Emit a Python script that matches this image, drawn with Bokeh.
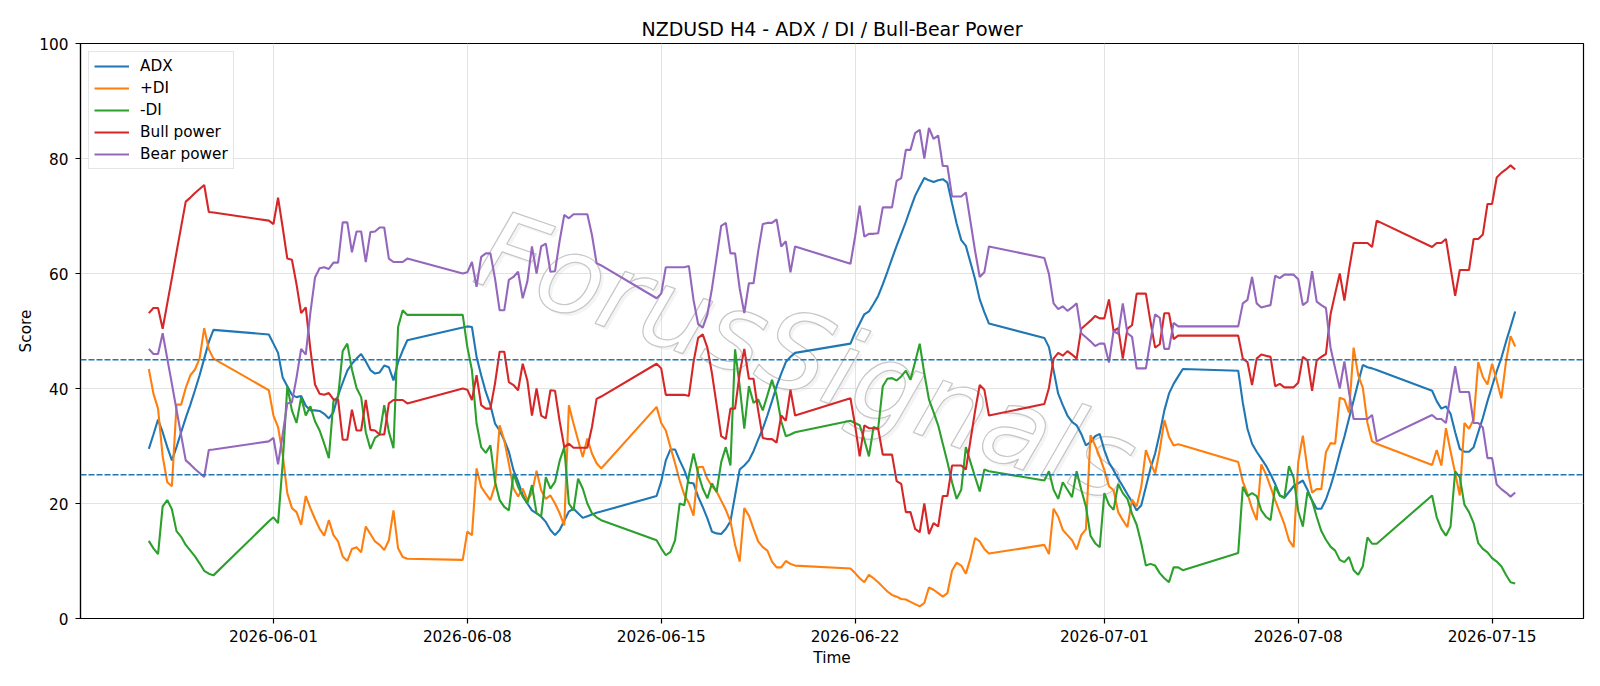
import pandas as pd
from bokeh.plotting import figure
from bokeh.models import (ColumnDataSource, Range1d, FixedTicker, DatetimeTickFormatter,
                          Span, Label)
from bokeh.embed import file_html
from bokeh.resources import INLINE

FONT = "DejaVu Sans"

# H4 trading sessions (bar open times), one entry per trading week
sessions = [
    ("2026-05-27 12:00", "2026-05-29 20:00"),
    ("2026-05-31 20:00", "2026-06-05 20:00"),
    ("2026-06-07 20:00", "2026-06-12 20:00"),
    ("2026-06-14 20:00", "2026-06-19 20:00"),
    ("2026-06-21 20:00", "2026-06-26 20:00"),
    ("2026-06-28 20:00", "2026-07-03 20:00"),
    ("2026-07-05 20:00", "2026-07-10 20:00"),
    ("2026-07-12 20:00", "2026-07-15 20:00"),
]

adx = [
    29.5, 32.0, 34.6, 32.4, 29.8, 27.5, 29.8, 32.4, 34.9, 37.2, 39.7, 42.3, 45.2, 48.1, 50.2,
    49.4, 47.8, 46.2, 41.9, 40.4, 38.9, 38.5, 38.7, 37.0, 36.2, 36.2, 36.1, 35.6, 34.8, 35.9, 38.8,
    41.0, 43.1, 44.3, 45.2, 46.0, 44.7, 43.2, 42.6, 42.8, 44.0, 43.7, 41.4, 44.6, 46.6, 48.4,
    50.6, 50.8, 50.7, 45.5, 42.3, 39.4, 37.1, 33.9, 32.7, 31.0, 29.0, 25.8, 23.8, 21.5, 20.0, 18.8,
    18.3, 17.7, 16.8, 15.4, 14.5, 15.4, 17.0, 18.6, 19.1, 18.3, 17.5, 17.8, 18.1, 18.4, 18.6,
    21.3, 23.8, 27.5, 29.4, 29.4, 27.5, 25.8, 23.6, 23.5, 21.2, 19.4, 17.4, 15.1, 14.8, 14.7, 15.6,
    16.9, 21.4, 25.9, 26.6, 27.5, 29.1, 31.1, 33.0, 35.3, 37.8, 40.4, 42.6, 44.6, 45.5, 46.2,
    47.8, 49.7, 51.3, 52.9, 53.4, 54.7, 56.1, 58.1, 60.3, 62.6, 64.8, 66.9, 69.0, 71.3, 73.5, 75.1,
    76.6, 76.2, 75.9, 76.2, 76.4, 75.8, 72.2, 68.7, 65.8, 64.8, 61.9, 59.0, 55.5, 53.3, 51.3,
    48.8, 47.2, 43.2, 39.1, 37.1, 35.3, 34.2, 33.6, 32.1, 30.1, 30.7, 31.7, 32.1, 29.3, 27.1, 25.8,
    24.3, 23.0, 21.6, 20.3, 18.8, 19.7, 22.9, 26.1, 28.7, 32.2, 36.2, 39.1, 40.8, 42.1, 43.4,
    43.1, 37.5, 33.0, 30.4, 29.0, 27.8, 26.6, 25.1, 23.4, 21.4, 21.0, 22.0, 23.0, 23.5, 24.0, 22.4,
    20.5, 19.1, 19.1, 20.7, 23.0, 25.7, 28.8, 31.6, 34.8, 37.9, 41.1, 44.1, 43.7, 43.5, 43.2,
    39.6, 37.8, 36.5, 36.9, 35.6, 32.4, 29.5, 29.0, 29.0, 29.8, 32.4, 34.9, 37.8, 40.4, 43.0, 45.3,
    48.1, 50.7, 53.4,
]

plus_di = [
    43.4, 39.1, 36.5, 28.2, 23.7, 23.0, 37.2, 37.2, 40.1, 42.3, 43.3, 45.2, 50.5, 46.8, 45.2,
    39.7, 35.3, 33.3, 28.5, 21.8, 19.2, 18.5, 16.3, 21.3, 19.2, 17.3, 15.6, 14.4, 17.1, 14.5, 13.4,
    10.8, 10.0, 12.1, 12.4, 11.5, 16.0, 14.7, 13.4, 12.8, 11.9, 13.6, 18.8, 12.2, 10.7, 10.4,
    10.2, 15.1, 14.5, 26.1, 22.9, 21.7, 20.6, 23.2, 33.6, 31.0, 26.9, 22.6, 21.2, 22.6, 20.6, 21.8,
    25.7, 22.3, 20.8, 21.4, 20.0, 18.3, 16.2, 37.1, 33.9, 31.0, 28.1, 31.3, 28.7, 27.0, 26.1,
    36.8, 34.0, 32.7, 29.8, 27.0, 24.0, 21.5, 20.1, 17.9, 26.3, 26.4, 24.3, 23.0, 22.1, 20.5, 18.9,
    16.9, 12.8, 9.9, 19.2, 17.9, 15.6, 13.4, 12.4, 11.8, 9.9, 8.9, 8.9, 10.0, 9.5, 9.2,
    8.7, 7.9, 7.0, 6.3, 7.6, 7.0, 6.3, 5.5, 4.7, 4.1, 3.8, 3.4, 3.3, 2.9, 2.5, 2.1,
    2.7, 5.4, 5.0, 4.4, 3.8, 4.4, 8.3, 9.7, 9.2, 7.8, 10.5, 14.0, 13.4, 12.1, 11.3,
    12.8, 11.2, 19.1, 17.7, 15.4, 14.5, 13.6, 12.0, 14.5, 15.5, 31.9, 30.1, 28.1, 25.8, 23.0, 22.3,
    18.5, 17.1, 15.9, 20.7, 19.5, 22.9, 29.3, 27.1, 25.2, 29.3, 34.5, 31.6, 30.1, 30.3, 30.1,
    27.2, 23.8, 21.7, 19.1, 17.1, 26.8, 25.1, 22.9, 20.6, 18.5, 16.4, 13.6, 12.4, 27.2, 31.8, 26.0,
    21.9, 22.5, 22.5, 28.9, 30.5, 30.4, 38.4, 38.1, 35.8, 47.1, 42.3, 40.1, 34.0, 30.8, 30.4,
    26.7, 29.3, 26.6, 33.1, 29.1, 25.3, 21.4, 34.0, 33.0, 34.6, 44.6, 42.0, 40.7, 44.3, 41.4, 38.3,
    44.6, 49.1, 47.3,
]

minus_di = [
    13.5, 12.2, 11.2, 19.5, 20.6, 19.0, 15.2, 14.2, 12.8, 11.8, 10.8, 9.6, 8.3, 7.8, 7.5,
    16.9, 17.6, 16.6, 27.0, 40.4, 36.2, 34.0, 38.5, 35.3, 36.9, 34.3, 32.7, 30.4, 27.9, 37.8, 38.5,
    46.5, 47.8, 43.3, 40.1, 38.5, 32.4, 29.5, 31.4, 32.0, 37.1, 32.5, 29.6, 50.7, 53.6, 52.8,
    52.8, 47.2, 43.2, 33.9, 29.8, 28.8, 30.1, 23.8, 20.6, 19.4, 18.8, 25.2, 22.9, 21.2, 20.0, 23.2,
    18.3, 17.8, 24.6, 22.6, 23.8, 27.4, 29.8, 20.0, 18.8, 24.3, 22.6, 20.0, 18.3, 17.6, 17.1,
    13.6, 12.2, 11.0, 11.6, 13.6, 20.0, 19.7, 24.9, 28.7, 25.2, 22.6, 20.9, 23.5, 22.0, 27.2, 29.8,
    26.6, 46.8, 40.4, 33.0, 40.4, 37.5, 38.1, 36.2, 38.8, 41.5, 38.8, 34.3, 31.7, 32.0, 32.4,
    34.4, 34.0, 33.6, 31.1, 28.2, 33.3, 33.0, 40.4, 41.7, 41.8, 41.4, 42.1, 43.1, 41.5, 44.6, 47.8,
    42.6, 38.1, 35.9, 33.6, 30.4, 27.2, 23.7, 20.8, 22.4, 29.8, 27.2, 24.6, 22.1, 25.9, 25.6,
    24.0, 25.6, 22.4, 20.8, 23.7, 22.4, 21.1, 25.6, 22.4, 19.5, 14.4, 13.1, 12.4, 21.8, 19.8, 18.9,
    23.4, 21.8, 20.8, 18.2, 16.3, 13.1, 9.2, 9.5, 9.2, 7.9, 7.0, 6.3, 8.9, 8.9, 8.4,
    11.4, 22.9, 21.3, 21.8, 21.3, 18.8, 17.7, 17.1, 23.0, 21.4, 21.0, 26.5, 24.5, 18.7, 16.0, 22.0,
    20.5, 17.7, 15.2, 13.7, 12.5, 11.8, 10.2, 9.8, 10.7, 8.4, 7.6, 9.1, 14.1, 13.0, 13.0,
    21.4, 17.6, 15.6, 14.4, 16.0, 25.6, 24.6, 19.8, 18.5, 16.6, 13.1, 12.1, 11.5, 10.5, 9.9, 9.1,
    7.6, 6.3, 6.1,
]

bull_power = [
    53.1, 54.0, 54.0, 50.4, 54.8, 59.2, 63.7, 68.1, 72.5, 73.2, 74.0, 74.7, 75.4, 70.7, 70.6,
    69.2, 68.6, 73.2, 68.0, 62.6, 62.4, 58.1, 53.1, 54.1, 46.8, 40.7, 39.1, 38.9, 39.2, 38.1, 38.1,
    31.1, 31.1, 36.3, 32.7, 32.7, 38.0, 32.8, 32.7, 32.0, 32.0, 37.4, 38.0, 38.0, 38.0, 37.4,
    40.0, 39.8, 38.0, 42.3, 37.1, 36.5, 36.5, 40.9, 46.4, 46.4, 41.1, 40.6, 39.7, 44.3, 41.4, 35.3,
    40.0, 35.3, 34.8, 39.7, 39.6, 34.3, 29.8, 30.4, 29.7, 29.7, 29.7, 29.7, 33.3, 38.2, 38.6,
    44.3, 43.5, 38.9, 38.9, 38.9, 38.9, 38.9, 38.7, 44.6, 48.8, 49.4, 47.1, 42.6, 37.2, 31.7, 31.2,
    36.5, 36.5, 42.6, 46.9, 41.7, 41.7, 36.2, 31.4, 31.2, 31.2, 30.6, 35.3, 34.4, 39.8, 35.3,
    38.3, 33.6, 28.2, 33.6, 33.1, 33.1, 33.0, 28.5, 28.5, 28.5, 23.9, 23.4, 18.5, 18.5, 15.6, 15.0,
    20.0, 14.7, 16.6, 16.0, 21.3, 21.3, 26.6, 26.6, 26.6, 25.9, 31.0, 36.1, 40.6, 39.8, 35.3,
    37.3, 40.1, 45.2, 46.2, 45.7, 46.5, 45.9, 45.2, 50.4, 51.1, 51.8, 52.6, 52.2, 52.2, 55.5, 50.0,
    50.5, 45.2, 50.4, 51.0, 56.5, 56.5, 56.5, 51.6, 47.1, 47.7, 53.1, 53.1, 48.6, 49.2, 49.2,
    49.2, 45.2, 44.6, 40.6, 45.2, 45.9, 45.7, 45.5, 40.4, 40.8, 40.2, 40.2, 40.2, 41.0, 45.5, 44.9,
    39.6, 44.9, 45.5, 46.0, 52.9, 56.5, 60.0, 55.3, 60.6, 65.3, 65.3, 65.3, 65.3, 64.6, 69.2,
    64.6, 65.3, 65.3, 66.0, 61.0, 56.1, 60.6, 60.6, 60.6, 66.0, 66.0, 66.8, 72.1, 72.1, 76.7, 77.5,
    78.1, 78.8, 78.1,
]

bear_power = [
    46.9, 46.0, 46.0, 49.6, 45.2, 40.8, 36.3, 31.9, 27.5, 26.8, 26.0, 25.3, 24.6, 29.3, 29.4,
    30.8, 31.4, 26.8, 32.0, 37.4, 37.6, 41.9, 46.9, 45.9, 53.2, 59.3, 60.9, 61.1, 60.8, 61.9, 61.9,
    68.9, 68.9, 63.7, 67.3, 67.3, 62.0, 67.2, 67.3, 68.0, 68.0, 62.6, 62.0, 62.0, 62.0, 62.6,
    60.0, 60.2, 62.0, 57.7, 62.9, 63.5, 63.5, 59.1, 53.6, 53.6, 58.9, 59.4, 60.3, 55.7, 58.6, 64.7,
    60.0, 64.7, 65.2, 60.3, 60.4, 65.7, 70.2, 69.6, 70.3, 70.3, 70.3, 70.3, 66.7, 61.8, 61.4,
    55.7, 56.5, 61.1, 61.1, 61.1, 61.1, 61.1, 61.3, 55.4, 51.2, 50.6, 52.9, 57.4, 62.8, 68.3, 68.8,
    63.5, 63.5, 57.4, 53.1, 58.3, 58.3, 63.8, 68.6, 68.8, 68.8, 69.4, 64.7, 65.6, 60.2, 64.7,
    61.7, 66.4, 71.8, 66.4, 66.9, 66.9, 67.0, 71.5, 71.5, 71.5, 76.1, 76.6, 81.5, 81.5, 84.4, 85.0,
    80.0, 85.3, 83.4, 84.0, 78.7, 78.7, 73.4, 73.4, 73.4, 74.1, 69.0, 63.9, 59.4, 60.2, 64.7,
    62.7, 59.9, 54.8, 53.8, 54.3, 53.5, 54.1, 54.8, 49.6, 48.9, 48.2, 47.4, 47.8, 47.8, 44.5, 50.0,
    49.5, 54.8, 49.6, 49.0, 43.5, 43.5, 43.5, 48.4, 52.9, 52.3, 46.9, 46.9, 51.4, 50.8, 50.8,
    50.8, 54.8, 55.4, 59.4, 54.8, 54.1, 54.3, 54.5, 59.6, 59.2, 59.8, 59.8, 59.8, 59.0, 54.5, 55.1,
    60.4, 55.1, 54.5, 54.0, 47.1, 43.5, 40.0, 44.7, 39.4, 34.7, 34.7, 34.7, 34.7, 35.4, 30.8,
    35.4, 34.7, 34.7, 34.0, 39.0, 43.9, 39.4, 39.4, 39.4, 34.0, 34.0, 33.2, 27.9, 27.9, 23.3, 22.5,
    21.9, 21.2, 21.9,
]

tick_dates = ["2026-06-01", "2026-06-08", "2026-06-15", "2026-06-22",
              "2026-07-01", "2026-07-08", "2026-07-15"]
y_ticks = [0, 20, 40, 60, 80, 100]
threshold_levels = [25, 45]

series = [
    ("ADX", "adx", "#1f77b4"),
    ("+DI", "plus_di", "#ff7f0e"),
    ("-DI", "minus_di", "#2ca02c"),
    ("Bull power", "bull", "#d62728"),
    ("Bear power", "bear", "#9467bd"),
]

# build the bar-time index from the session bounds
parts = [pd.date_range(a, b, freq="4h") for a, b in sessions]
time = parts[0].append(parts[1:])

source = ColumnDataSource(dict(
    time=time, adx=adx, plus_di=plus_di, minus_di=minus_di,
    bull=bull_power, bear=bear_power,
))

span = time[-1] - time[0]
x_start = time[0] - 0.05 * span
x_end = time[-1] + 0.05 * span

p = figure(
    width=1600, height=686,
    x_axis_type="datetime",
    x_range=Range1d(x_start, x_end),
    y_range=Range1d(0, 100),
    output_backend="svg",
    toolbar_location=None,
    min_border_left=80, min_border_right=17,
    min_border_top=43, min_border_bottom=68,
    title="NZDUSD H4 - ADX / DI / Bull-Bear Power",
)
p.background_fill_color = "white"
p.border_fill_color = "white"
p.outline_line_color = "black"
p.outline_line_width = 1.2

p.title.align = "center"
p.title.text_font = FONT
p.title.text_font_size = "19px"
p.title.text_font_style = "normal"
p.title.text_color = "black"
p.title.standoff = 8

# grid
p.xgrid.grid_line_color = "#e3e3e3"
p.ygrid.grid_line_color = "#e3e3e3"
p.xgrid.grid_line_width = 1
p.ygrid.grid_line_width = 1

# axes
tick_ms = [pd.Timestamp(d).value // 10**6 for d in tick_dates]
p.xaxis.ticker = FixedTicker(ticks=tick_ms)
fmt = "%Y-%m-%d"
p.xaxis.formatter = DatetimeTickFormatter(
    microseconds=fmt, milliseconds=fmt, seconds=fmt, minsec=fmt, minutes=fmt,
    hourmin=fmt, hours=fmt, days=fmt, months=fmt, years=fmt,
)
p.yaxis.ticker = FixedTicker(ticks=y_ticks)
p.xaxis.axis_label = "Time"
p.yaxis.axis_label = "Score"
for ax in (p.xaxis, p.yaxis):
    ax.axis_line_color = "black"
    ax.axis_line_width = 1.2
    ax.major_tick_line_color = "black"
    ax.major_tick_line_width = 1.2
    ax.major_tick_out = 5
    ax.major_tick_in = 0
    ax.minor_tick_line_color = None
    ax.major_label_text_font = FONT
    ax.major_label_text_font_size = "15.3px"
    ax.major_label_text_color = "black"
    ax.axis_label_text_font = FONT
    ax.axis_label_text_font_size = "15.3px"
    ax.axis_label_text_font_style = "normal"
    ax.axis_label_text_color = "black"
p.xaxis.major_label_standoff = 6
p.xaxis.axis_label_standoff = 4
p.yaxis.major_label_standoff = 7
p.yaxis.axis_label_standoff = 1

# background watermark: hollow letters with a soft shadow
wm_x = pd.Timestamp("2026-06-20 06:00")
wm_y = 45.6
wm_kw = dict(text="ForusSignals", text_font=FONT, text_font_size="108px",
             text_font_style="italic", text_align="center",
             text_baseline="middle", angle=-0.33, level="underlay")
has_outline = "text_outline_color" in Label.properties()
shadow = Label(x=wm_x, y=wm_y, x_offset=3, y_offset=-3,
               text_color="#a8a8a8", text_alpha=0.12, **wm_kw)
p.add_layout(shadow)
if has_outline:
    front = Label(x=wm_x, y=wm_y, text_color="white", text_alpha=1.0,
                  text_outline_color="#c6c6c6", **wm_kw)
else:
    front = Label(x=wm_x, y=wm_y, text_color="#d8d8d8", text_alpha=0.5, **wm_kw)
p.add_layout(front)

for name, key, color in series:
    p.line(x="time", y=key, source=source, line_color=color, line_width=2.1,
           legend_label=name)

for lvl in threshold_levels:
    p.add_layout(Span(location=lvl, dimension="width", line_color="#1f77b4",
                      line_dash="6 2", line_width=1.4))

lg = p.legend[0]
lg.location = "top_left"
lg.margin = 8
lg.padding = 5
lg.spacing = 4
lg.label_height = 18
lg.glyph_height = 18
lg.glyph_width = 35
lg.label_standoff = 11
lg.label_text_font = FONT
lg.label_text_font_size = "15.3px"
lg.label_text_color = "black"
lg.border_line_color = "#cccccc"
lg.border_line_width = 1
lg.background_fill_alpha = 0.85

open("out.html", "w").write(file_html(p, INLINE))
